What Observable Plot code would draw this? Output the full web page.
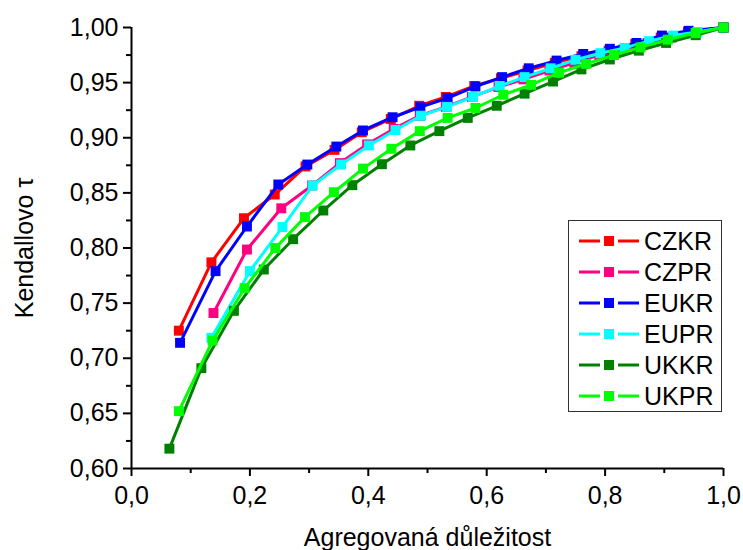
<!DOCTYPE html>
<html>
<head>
<meta charset="utf-8">
<script src="https://cdn.jsdelivr.net/npm/d3@7"></script>
<script src="https://cdn.jsdelivr.net/npm/@observablehq/plot@0.6"></script>
<style>
  body { margin: 0; background: #fff; }
  #wrap { position: relative; width: 743px; height: 550px; font-family: "Liberation Sans", Arial, sans-serif; }
  #legend { position: absolute; left: 568px; top: 220px; width: 154px; height: 192px; box-sizing: border-box;
            border: 1px solid #333; background: #fff; }
  .row { position: absolute; left: 0; height: 30px; display: flex; align-items: center; }
  .row span { font-size: 25px; color: #000; margin-left: 3px; line-height: 30px; }
</style>
</head>
<body>
<div id="wrap"></div>
<script>
// ---- data ----
const seriesNames = ["CZKR", "CZPR", "EUKR", "EUPR", "UKKR", "UKPR"];
const seriesColors = ["#ff0000", "#ff0080", "#0000ff", "#00ffff", "#008000", "#00ff00"];

const czkrX = [0.080, 0.135, 0.190, 0.242, 0.294, 0.343, 0.389, 0.438, 0.486, 0.531, 0.579, 0.624, 0.669, 0.715, 0.760, 0.806, 0.851, 0.894, 0.940, 1.000];
const czkrY = [0.725, 0.787, 0.827, 0.8485, 0.874, 0.889, 0.905, 0.917, 0.929, 0.937, 0.947, 0.954, 0.961, 0.968, 0.974, 0.979, 0.985, 0.991, 0.996, 1.000];

const czprX = [0.1385, 0.195, 0.253, 0.305, 0.352, 0.398, 0.443, 0.487, 0.531, 0.575, 0.620, 0.662, 0.706, 0.748, 0.790, 0.831, 0.872, 0.913, 0.954, 1.000];
const czprY = [0.741, 0.7986, 0.836, 0.8567, 0.877, 0.894, 0.908, 0.920, 0.928, 0.937, 0.946, 0.953, 0.961, 0.968, 0.975, 0.980, 0.986, 0.991, 0.995, 1.000];

const eukrX = [0.082, 0.142, 0.195, 0.248, 0.297, 0.346, 0.391, 0.441, 0.488, 0.534, 0.581, 0.626, 0.671, 0.718, 0.763, 0.808, 0.853, 0.896, 0.941, 1.000];
const eukrY = [0.714, 0.779, 0.8195, 0.8576, 0.8757, 0.892, 0.9066, 0.9186, 0.9277, 0.936, 0.9465, 0.955, 0.963, 0.970, 0.976, 0.9807, 0.986, 0.9927, 0.997, 1.000];

const euprX = [0.135, 0.200, 0.255, 0.306, 0.354, 0.401, 0.446, 0.489, 0.533, 0.577, 0.622, 0.664, 0.708, 0.750, 0.792, 0.833, 0.874, 0.915, 0.956, 1.000];
const euprY = [0.7185, 0.779, 0.819, 0.8567, 0.8757, 0.893, 0.907, 0.920, 0.928, 0.937, 0.947, 0.955, 0.963, 0.9707, 0.9767, 0.9815, 0.9876, 0.9927, 0.996, 1.000];

const ukkrX = [0.064, 0.118, 0.173, 0.2235, 0.273, 0.324, 0.373, 0.423, 0.471, 0.520, 0.568, 0.617, 0.664, 0.712, 0.760, 0.808, 0.857, 0.903, 0.953, 1.000];
const ukkrY = [0.618, 0.691, 0.743, 0.7805, 0.808, 0.834, 0.857, 0.876, 0.893, 0.906, 0.918, 0.929, 0.940, 0.951, 0.962, 0.971, 0.979, 0.986, 0.993, 1.000];

const ukprX = [0.080, 0.137, 0.191, 0.243, 0.293, 0.342, 0.391, 0.439, 0.487, 0.534, 0.581, 0.628, 0.675, 0.722, 0.768, 0.815, 0.860, 0.906, 0.953, 1.000];
const ukprY = [0.652, 0.716, 0.7635, 0.800, 0.828, 0.8506, 0.872, 0.890, 0.906, 0.918, 0.927, 0.939, 0.948, 0.959, 0.967, 0.975, 0.982, 0.989, 0.995, 1.000];

const xTicks = [0, 0.2, 0.4, 0.6, 0.8, 1.0];
const xMinorTicks = [0.1, 0.3, 0.5, 0.7, 0.9];
const yTicks = [0.60, 0.65, 0.70, 0.75, 0.80, 0.85, 0.90, 0.95, 1.00];
const yMinorTicks = [0.625, 0.675, 0.725, 0.775, 0.825, 0.875, 0.925, 0.975];

// ---- build table ----
const xs = [czkrX, czprX, eukrX, euprX, ukkrX, ukprX];
const ys = [czkrY, czprY, eukrY, euprY, ukkrY, ukprY];
const rows = seriesNames.flatMap((s, i) => xs[i].map((x, j) => ({series: s, x, y: ys[i][j]})));

const fmt = (digits) => (d) => d.toFixed(digits).replace(".", ",");

const seriesMarks = seriesNames.flatMap((s, i) => {
  const d = rows.filter(r => r.series === s);
  return [
    Plot.line(d, {x: "x", y: "y", stroke: seriesColors[i], strokeWidth: 3}),
    Plot.dot(d, {x: "x", y: "y", symbol: "square", r: 5.6, fill: seriesColors[i], stroke: "none"})
  ];
});

const chart = Plot.plot({
  width: 743,
  height: 550,
  marginLeft: 131,
  marginRight: 20,
  marginTop: 27,
  marginBottom: 82,
  style: {fontFamily: "Liberation Sans, Arial, sans-serif", fontSize: "25px", color: "#000", background: "#fff"},
  x: {domain: [0, 1]},
  y: {domain: [0.6, 1.0]},
  marks: [
    Plot.axisX(xTicks, {tickFormat: fmt(1), tickSize: 8, tickPadding: 10, strokeWidth: 2, fontSize: 25,
      label: "Agregovaná důležitost", labelAnchor: "center", labelArrow: "none", labelOffset: 77}),
    Plot.axisX(xMinorTicks, {tickFormat: () => "", tickSize: 5, strokeWidth: 2, label: null}),
    Plot.axisY(yTicks, {tickFormat: fmt(2), tickSize: 8, tickPadding: 5, strokeWidth: 2, fontSize: 25,
      label: "Kendallovo τ", labelAnchor: "center", labelArrow: "none", labelOffset: 116}),
    Plot.axisY(yMinorTicks, {tickFormat: () => "", tickSize: 5, strokeWidth: 2, label: null}),
    Plot.ruleX([0], {strokeWidth: 2}),
    Plot.ruleY([0.6], {strokeWidth: 2}),
    ...seriesMarks
  ]
});

const wrap = document.getElementById("wrap");
wrap.appendChild(chart);

// ---- legend ----
const legend = document.createElement("div");
legend.id = "legend";
seriesNames.forEach((s, i) => {
  const row = document.createElement("div");
  row.className = "row";
  row.style.top = (5 + i * 31) + "px";
  const c = seriesColors[i];
  row.innerHTML =
    `<svg width="72" height="30" style="display:block">
       <line x1="10" x2="31" y1="15" y2="15" stroke="${c}" stroke-width="3"/>
       <rect x="35" y="10" width="10" height="10" fill="${c}"/>
       <line x1="49" x2="70" y1="15" y2="15" stroke="${c}" stroke-width="3"/>
     </svg><span>${s}</span>`;
  legend.appendChild(row);
});
wrap.appendChild(legend);
</script>
</body>
</html>
